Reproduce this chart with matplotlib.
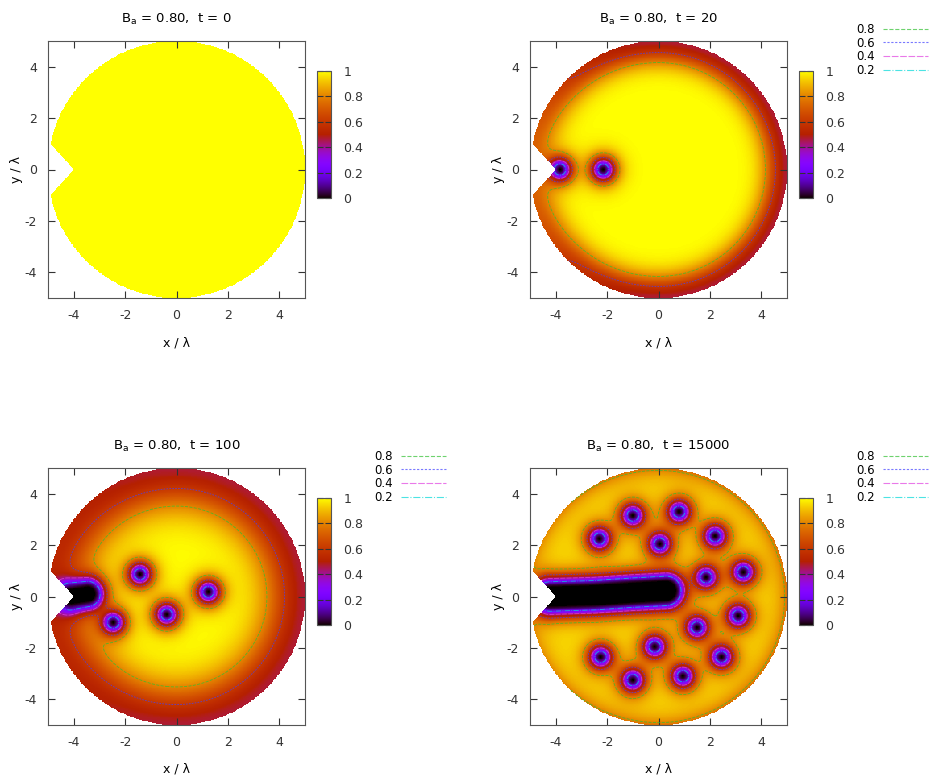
import numpy as np
import matplotlib
matplotlib.use('Agg')
import matplotlib.pyplot as plt
from matplotlib.lines import Line2D
from matplotlib.ticker import FormatStrFormatter

plt.rcParams['font.family'] = ['DejaVu Sans']
plt.rcParams['mathtext.default'] = 'regular'
plt.rcParams['axes.unicode_minus'] = False

# applied field and snapshot times
Ba = 0.80
times = [0, 20, 100, 15000]

# sample: disk of radius R with a wedge notch on the left
R = 5.0
notch_tip = (-4.0, 0.0)
notch_mouth = (-4.9, 1.0)

# surface suppression of the order parameter for each snapshot
edge_value = [1.0, 0.47, 0.47, 0.76]
edge_depth = [1.0, 0.85, 1.5, 0.40]
edge_power = [1.0, 2.0, 2.0, 1.0]
edge_left_relief = [0.0, 0.5, 0.15, 0.4]
bulk_value = [1.0, 1.0, 1.0, 0.96]

# vortex positions
vx_20 = [-3.83, -2.15]
vy_20 = [0.0, 0.0]
vx_100 = [-2.46, -1.42, -0.38, 1.24]
vy_100 = [-1.01, 0.87, -0.70, 0.18]
vx_15000 = [-2.3, -1.0, 0.8, 0.05, 2.2, 1.85, 3.3, 3.1, 1.5, -0.15, 2.45, -2.25, -1.0, 0.95]
vy_15000 = [2.25, 3.15, 3.3, 2.05, 2.35, 0.75, 0.95, -0.75, -1.2, -1.95, -2.35, -2.35, -3.25, -3.1]
vortex_x = [[], vx_20, vx_100, vx_15000]
vortex_y = [[], vy_20, vy_100, vy_15000]

# normal region entering through the notch (centre line + core radius)
bx_100 = [-4.1, -3.45]
by_100 = [0.0, 0.1]
bx_15000 = [-4.2, -2.5, -1.0, 0.3]
by_15000 = [0.0, 0.05, 0.15, 0.22]
blob_x = [[], [], bx_100, bx_15000]
blob_y = [[], [], by_100, by_15000]
blob_r = [0.0, 0.0, 0.25, 0.35]

xi = 0.45
levels = [0.2, 0.4, 0.6, 0.8]
level_colors = ['#00d8d8', '#e040e0', '#4040ff', '#30c030']
level_styles = ['-.', (0, (6, 1.5)), (0, (2, 1.5)), '--']


def seg_dist(X, Y, x0, y0, x1, y1):
    dx, dy = x1 - x0, y1 - y0
    t = ((X - x0) * dx + (Y - y0) * dy) / (dx * dx + dy * dy)
    t = np.clip(t, 0, 1)
    return np.hypot(X - x0 - t * dx, Y - y0 - t * dy)


n = 320
g = np.linspace(-R, R, n)
X, Y = np.meshgrid(g, g)
r = np.hypot(X, Y)
slope = notch_mouth[1] / (notch_tip[0] - notch_mouth[0])
outside = (r > R) | ((X < notch_tip[0]) & (np.abs(Y) < (notch_tip[0] - X) * slope))
d_edge = np.clip(R - r, 0, None)
left_side = np.clip(-X / np.maximum(r, 1e-9), 0, 1) ** 2

W, H = 931, 776
fig = plt.figure(figsize=(W / 100, H / 100), dpi=100)


def px_box(x0, y0, x1, y1):
    return [x0 / W, 1 - y1 / H, (x1 - x0) / W, (y1 - y0) / H]


corners = [(48, 41), (530, 41), (48, 468), (530, 468)]

for k, t in enumerate(times):
    left, top = corners[k]
    ax = fig.add_axes(px_box(left, top, left + 257, top + 257))

    amp = (bulk_value[k] - edge_value[k]) * (1 - edge_left_relief[k] * left_side)
    f = bulk_value[k] - amp * np.exp(-(d_edge / edge_depth[k]) ** edge_power[k])
    for vx, vy in zip(vortex_x[k], vortex_y[k]):
        f = f * np.tanh(np.hypot(X - vx, Y - vy) / xi) ** 2
    bx, by = blob_x[k], blob_y[k]
    if len(bx) > 1:
        db = np.full_like(X, 1e9)
        for i in range(len(bx) - 1):
            db = np.minimum(db, seg_dist(X, Y, bx[i], by[i], bx[i + 1], by[i + 1]))
        f = f * np.tanh(np.clip(db - blob_r[k], 0, None) / xi) ** 2
    F = np.ma.masked_where(outside, f)

    mesh = ax.pcolormesh(X, Y, F, cmap='gnuplot', vmin=0, vmax=1, shading='auto', rasterized=True)

    if t > 0:
        ax.contour(X, Y, F, levels=levels, colors=level_colors, linewidths=0.6,
                   linestyles=level_styles, alpha=0.8)
        handles = [Line2D([], [], color=c, lw=0.8, ls=s, alpha=0.7)
                   for c, s in zip(level_colors, level_styles)][::-1]
        labels = ['%g' % v for v in levels][::-1]
        ax.legend(handles, labels, loc='upper left', bbox_to_anchor=((left + 326) / W, 1 - (top - 18) / H),
                  bbox_transform=fig.transFigure, frameon=False, markerfirst=False, fontsize=8.5,
                  handlelength=3.8, handletextpad=0.7, labelspacing=0.05, borderpad=0, borderaxespad=0)

    ax.set_xlim(-5, 5)
    ax.set_ylim(-5, 5)
    ax.set_xticks([-4, -2, 0, 2, 4])
    ax.set_yticks([-4, -2, 0, 2, 4])
    ax.tick_params(direction='in', top=True, right=True, length=5, width=0.8,
                   labelsize=9, colors='#333333', pad=8)
    for sp in ax.spines.values():
        sp.set_color('#555555')
    ax.set_xlabel('x / λ', fontsize=9, labelpad=10)
    ax.set_ylabel('y / λ', fontsize=9, labelpad=1)
    ax.set_title(r'B$_{a}$ = %.2f,  t = %d' % (Ba, t), fontsize=9.5, pad=13)

    cax = fig.add_axes(px_box(left + 269, top + 30, left + 283, top + 157))
    cb = fig.colorbar(mesh, cax=cax, ticks=[0, 0.2, 0.4, 0.6, 0.8, 1.0])
    cb.ax.yaxis.set_major_formatter(FormatStrFormatter('%g'))
    cb.ax.tick_params(direction='in', left=True, right=True, length=4, width=0.8,
                      labelsize=9, colors='#333333', pad=9)
    cb.outline.set_edgecolor('#555555')

fig.savefig('out.png', dpi=100)
